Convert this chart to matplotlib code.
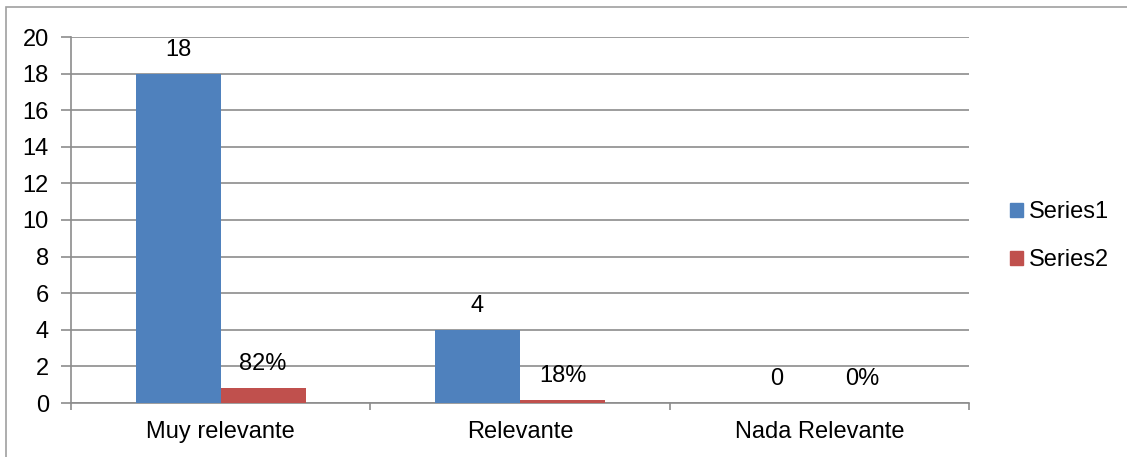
import matplotlib
matplotlib.use("Agg")
import matplotlib.pyplot as plt
from matplotlib.patches import Rectangle, Patch
import numpy as np

categories = ["Muy relevante", "Relevante", "Nada Relevante"]
series1 = [18, 4, 0]
series2 = [0.82, 0.18, 0.0]
series2_labels = ["82%", "18%", "0%"]
series1_labels = ["18", "4", "0"]
yticks = [0, 2, 4, 6, 8, 10, 12, 14, 16, 18, 20]

plt.rcParams['font.family'] = ['Liberation Sans', 'DejaVu Sans']
FS = 17
blue = "#4F81BD"
red = "#C0504D"
grid = "#8C8C8C"

fig = plt.figure(figsize=(11.27, 4.57), dpi=100)
fig.patches.append(Rectangle((6/1127, -0.01), 1.2, 1 - 7/457 + 0.01, transform=fig.transFigure,
                             fill=False, edgecolor="#A0A0A0", linewidth=1.2))
ax = fig.add_axes([71/1127, 1 - 403/457, (969 - 71)/1127, (403 - 37)/457])

x = np.arange(len(categories))
w = 0.284
b1 = ax.bar(x - w/2, series1, width=w, color=blue, zorder=3, label="Series1")
b2 = ax.bar(x + w/2, series2, width=w, color=red, zorder=3, label="Series2")

for xi, v, lab in zip(x - w/2, series1, series1_labels):
    ax.annotate(lab, (xi, v), xytext=(0, 17), textcoords="offset points",
                ha="center", va="center", fontsize=FS)
for xi, v, lab in zip(x + w/2, series2, series2_labels):
    ax.annotate(lab, (xi, v), xytext=(0, 17), textcoords="offset points",
                ha="center", va="center", fontsize=FS)

ax.set_xlim(-0.5, 2.5)
ax.set_ylim(0, 20)
ax.set_yticks(yticks)
ax.set_yticklabels([str(t) for t in yticks], fontsize=FS)
ax.yaxis.grid(True, color=grid, linewidth=1.2, zorder=0)
ax.set_axisbelow(True)

ax.set_xticks(x)
ax.set_xticklabels(categories, fontsize=FS)
ax.set_xticks([-0.5, 0.5, 1.5, 2.5], minor=True)
ax.tick_params(axis="x", which="major", length=0, pad=13)
ax.tick_params(axis="x", which="minor", length=5, width=1.2, color=grid, direction="out")
ax.tick_params(axis="y", length=7, width=1.2, color=grid, direction="out", pad=9)

for s in ["top", "right"]:
    ax.spines[s].set_visible(False)
for s in ["left", "bottom"]:
    ax.spines[s].set_color(grid)
    ax.spines[s].set_linewidth(1.2)

handles = [Patch(color=blue, label="Series1"), Patch(color=red, label="Series2")]
fig.legend(handles=handles, loc="center left", bbox_to_anchor=(989/1127, 1 - 236/457),
           frameon=False, fontsize=FS, handlelength=0.55, handleheight=0.55,
           handletextpad=0.25, labelspacing=1.1)

fig.savefig("out.png", dpi=100)
